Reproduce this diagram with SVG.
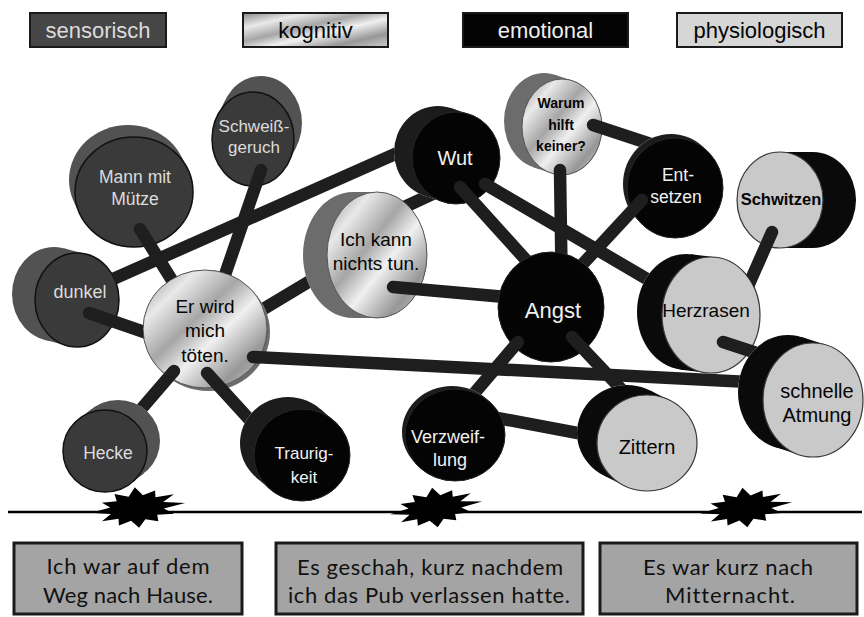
<svg xmlns="http://www.w3.org/2000/svg" xmlns:xlink="http://www.w3.org/1999/xlink" width="864" height="617" viewBox="0 0 864 617">
<style>
.lbl{font-family:"Liberation Sans",Arial,sans-serif;text-anchor:middle}
.sil{fill:currentColor}
.sil path{fill:none;stroke:currentColor;stroke-linecap:butt}
.sens .side{color:#525252}.sens .face{fill:#3a3a3a;stroke:#111;stroke-width:1.5}.sens text{fill:#dcdcdc}
.kog .side{color:#6c6c6c}.kog .face{fill:url(#metal);stroke:#555;stroke-width:1}.kog text{fill:#050505}
.emo .side{color:#1c1c1c}.emo .face{fill:#040404;stroke:#262626;stroke-width:1}.emo text{fill:#f2f2f2}
.phys .side{color:#0a0a0a}.phys .face{fill:#c9c9c9;stroke:#3a3a3a;stroke-width:1.2}.phys text{fill:#050505}
.bar{fill:none;stroke:#1e1e1e;stroke-width:12.5;stroke-linecap:round}
.leg{stroke:#1a1a1a;stroke-width:2}
.legt{font-family:"Liberation Sans",Arial,sans-serif;font-size:22px;text-anchor:middle}
.box{fill:#a4a4a4;stroke:#1a1a1a;stroke-width:3}
.boxt{font-family:Lato,"Open Sans",sans-serif;font-size:22px;fill:#111;text-anchor:middle;font-variant-ligatures:none}
.burst{fill:#000}
</style>
<defs>
<linearGradient id="metal" x1="0" y1="0" x2="1" y2="1">
<stop offset="0" stop-color="#8a8a8a"/>
<stop offset="0.22" stop-color="#e9e9e9"/>
<stop offset="0.42" stop-color="#a6a6a6"/>
<stop offset="0.58" stop-color="#f0f0f0"/>
<stop offset="0.8" stop-color="#979797"/>
<stop offset="1" stop-color="#cdcdcd"/>
</linearGradient>
<polygon id="burst" points="44,0 24.2,2.9 32.9,8.6 17.7,8 18,14 6.5,10.9 0,18 -6.5,10.9 -18,14 -17.7,8 -32.9,8.6 -24.2,2.9 -42,0 -24.2,-2.9 -31.2,-8.1 -17.7,-8 -19,-14.8 -6.5,-10.9 0,-18.9 6.5,-10.9 18,-14 17.7,-8 34.6,-9 24.2,-2.9"/>
<g id="s-Schweiss" class="sil" transform="translate(253 139) scale(1 1.146)"><circle cx="8" cy="-13.96" r="41"/><path d="M8 -13.96L0 0" stroke-width="82"/><circle r="41"/></g>
<g id="s-Mann" class="sil" transform="translate(134 192) scale(1 0.932)"><circle cx="-6" cy="-12.87" r="59"/><path d="M-6 -12.87L0 0" stroke-width="118"/><circle r="59"/></g>
<g id="s-Dunkel" class="sil" transform="translate(77 300) scale(1 1.119)"><circle cx="-23" cy="-5.36" r="42"/><path d="M-23 -5.36L0 0" stroke-width="84"/><circle r="42"/></g>
<g id="s-ErWird" class="sil" transform="translate(205 329) scale(1 0.952)"><circle cx="3" cy="3.15" r="62"/><path d="M3 3.15L0 0" stroke-width="124"/><circle r="62"/></g>
<g id="s-Hecke" class="sil" transform="translate(105 451) scale(1 0.976)"><circle cx="13" cy="-10.25" r="42"/><path d="M13 -10.25L0 0" stroke-width="84"/><circle r="42"/></g>
<g id="s-Traurig" class="sil" transform="translate(302 455) scale(1 0.958)"><circle cx="-14" cy="-12.52" r="48"/><path d="M-14 -12.52L0 0" stroke-width="96"/><circle r="48"/></g>
<g id="s-IchKann" class="sil" transform="translate(377 255) scale(1 1.26)"><circle cx="-24" cy="0" r="50"/><path d="M-24 0L0 0" stroke-width="100"/><circle r="50"/></g>
<g id="s-Wut" class="sil" transform="translate(456 158) scale(1 1.045)"><circle cx="-18" cy="-5.74" r="44"/><path d="M-18 -5.74L0 0" stroke-width="88"/><circle r="44"/></g>
<g id="s-Warum" class="sil" transform="translate(562 127) scale(1 1.2)"><circle cx="-18" cy="-5" r="40"/><path d="M-18 -5L0 0" stroke-width="80"/><circle r="40"/></g>
<g id="s-Ent" class="sil" transform="translate(675 188) scale(1 1.042)"><circle cx="-4" cy="-3.84" r="48"/><path d="M-4 -3.84L0 0" stroke-width="96"/><circle r="48"/></g>
<g id="s-Schwitzen" class="sil" transform="translate(780 200) scale(1 1.116)"><circle cx="33" cy="0" r="43"/><path d="M33 0L0 0" stroke-width="86"/><circle r="43"/></g>
<g id="s-Herz" class="sil" transform="translate(711 315) scale(1 1.184)"><circle cx="-25" cy="-2.53" r="49"/><path d="M-25 -2.53L0 0" stroke-width="98"/><circle r="49"/></g>
<g id="s-Angst" class="sil" transform="translate(551 307) scale(1 1.038)"><circle r="53"/></g>
<g id="s-Schnelle" class="sil" transform="translate(813 400) scale(1 1.14)"><circle cx="-25" cy="-7.02" r="50"/><path d="M-25 -7.02L0 0" stroke-width="100"/><circle r="50"/></g>
<g id="s-Zittern" class="sil" transform="translate(647 443) scale(1 0.96)"><circle cx="-20" cy="-10.42" r="50"/><path d="M-20 -10.42L0 0" stroke-width="100"/><circle r="50"/></g>
<g id="s-Verz" class="sil" transform="translate(455 435) scale(1 0.92)"><circle cx="-3" cy="-3.26" r="50"/><path d="M-3 -3.26L0 0" stroke-width="100"/><circle r="50"/></g>
<mask id="m-ErWird" maskUnits="userSpaceOnUse" x="0" y="0" width="864" height="617"><rect width="864" height="617" fill="#fff"/><use href="#s-ErWird" color="#000"/></mask>
<mask id="m-dW" maskUnits="userSpaceOnUse" x="0" y="0" width="864" height="617"><rect width="864" height="617" fill="#fff"/><use href="#s-Dunkel" color="#000"/><use href="#s-Wut" color="#000"/></mask>
<mask id="m-EI" maskUnits="userSpaceOnUse" x="0" y="0" width="864" height="617"><rect width="864" height="617" fill="#fff"/><use href="#s-ErWird" color="#000"/><use href="#s-IchKann" color="#000"/></mask>
<mask id="m-Sch" maskUnits="userSpaceOnUse" x="0" y="0" width="864" height="617"><rect width="864" height="617" fill="#fff"/><use href="#s-Schnelle" color="#000"/></mask>
<mask id="m-Hecke" maskUnits="userSpaceOnUse" x="0" y="0" width="864" height="617"><rect width="864" height="617" fill="#fff"/><use href="#s-Hecke" color="#000"/></mask>
<mask id="m-Tr" maskUnits="userSpaceOnUse" x="0" y="0" width="864" height="617"><rect width="864" height="617" fill="#fff"/><use href="#s-Traurig" color="#000"/></mask>
<mask id="m-IW" maskUnits="userSpaceOnUse" x="0" y="0" width="864" height="617"><rect width="864" height="617" fill="#fff"/><use href="#s-IchKann" color="#000"/><use href="#s-Wut" color="#000"/></mask>
<mask id="m-Angst" maskUnits="userSpaceOnUse" x="0" y="0" width="864" height="617"><rect width="864" height="617" fill="#fff"/><use href="#s-Angst" color="#000"/></mask>
<mask id="m-Herz" maskUnits="userSpaceOnUse" x="0" y="0" width="864" height="617"><rect width="864" height="617" fill="#fff"/><use href="#s-Herz" color="#000"/></mask>
<mask id="m-Ent" maskUnits="userSpaceOnUse" x="0" y="0" width="864" height="617"><rect width="864" height="617" fill="#fff"/><use href="#s-Ent" color="#000"/></mask>
<mask id="m-Verz" maskUnits="userSpaceOnUse" x="0" y="0" width="864" height="617"><rect width="864" height="617" fill="#fff"/><use href="#s-Verz" color="#000"/></mask>
<mask id="m-Zit" maskUnits="userSpaceOnUse" x="0" y="0" width="864" height="617"><rect width="864" height="617" fill="#fff"/><use href="#s-Zittern" color="#000"/></mask>
<mask id="m-VZ" maskUnits="userSpaceOnUse" x="0" y="0" width="864" height="617"><rect width="864" height="617" fill="#fff"/><use href="#s-Verz" color="#000"/><use href="#s-Zittern" color="#000"/></mask>
</defs>
<rect width="864" height="617" fill="#fff"/>

<g id="legend">
<g id="leg-sensorisch"><rect class="leg" x="30" y="13" width="136" height="34" fill="#464646"/><text class="legt" x="98" y="38" fill="#dcdcdc">sensorisch</text></g>
<g id="leg-kognitiv"><rect class="leg" x="243" y="13" width="145" height="34" fill="url(#metal)"/><text class="legt" x="315.5" y="38" fill="#050505">kognitiv</text></g>
<g id="leg-emotional"><rect class="leg" x="463" y="13" width="165" height="34" fill="#030303"/><text class="legt" x="545.5" y="38" fill="#eeeeee">emotional</text></g>
<g id="leg-physiologisch"><rect class="leg" x="677" y="13" width="165" height="34" fill="#d6d6d6"/><text class="legt" x="759.5" y="38" fill="#050505">physiologisch</text></g>
</g>

<g id="timeline">
<line x1="8" y1="512" x2="862" y2="512" stroke="#000" stroke-width="2.5"/>
<use href="#burst" class="burst" transform="translate(137 508) rotate(-6) scale(1.1)"/>
<use href="#burst" class="burst" transform="translate(435 508) rotate(-8) scale(1.08)"/>
<use href="#burst" class="burst" transform="translate(745 508) rotate(-7) scale(1.08)"/>
</g>

<g id="nodes">
<g id="n-schweissgeruch" class="sens lbl"><use href="#s-Schweiss" class="side"/><ellipse class="face" cx="253" cy="139" rx="41" ry="47"/><text x="254" y="132" font-size="17">Schweiß-</text><text x="254" y="153" font-size="17">geruch</text></g>
<g id="n-mann" class="sens lbl"><use href="#s-Mann" class="side"/><ellipse class="face" cx="134" cy="192" rx="59" ry="55"/><text x="135" y="183" font-size="17.5">Mann mit</text><text x="135" y="205" font-size="17.5">Mütze</text></g>
<g id="n-dunkel" class="sens lbl"><use href="#s-Dunkel" class="side"/><ellipse class="face" cx="77" cy="300" rx="42" ry="47"/><text x="80" y="298" font-size="18">dunkel</text></g>
<g id="n-hecke" class="sens lbl"><use href="#s-Hecke" class="side"/><ellipse class="face" cx="105" cy="451" rx="42" ry="41"/><text x="108" y="459" font-size="17.5">Hecke</text></g>
<g id="n-erwird" class="kog lbl"><use href="#s-ErWird" class="side"/><ellipse class="face" cx="205" cy="329" rx="62" ry="59"/><text x="205" y="313" font-size="19">Er wird</text><text x="205" y="337" font-size="19">mich</text><text x="205" y="362" font-size="19">töten.</text></g>
<g id="n-ichkann" class="kog lbl"><use href="#s-IchKann" class="side"/><ellipse class="face" cx="377" cy="255" rx="50" ry="63"/><text x="376" y="246" font-size="19">Ich kann</text><text x="376" y="270" font-size="19">nichts tun.</text></g>
<g id="n-warum" class="kog lbl"><use href="#s-Warum" class="side"/><ellipse class="face" cx="562" cy="127" rx="40" ry="48"/><text x="561" y="108" font-size="14" font-weight="bold">Warum</text><text x="561" y="130" font-size="14" font-weight="bold">hilft</text><text x="561" y="151" font-size="14" font-weight="bold">keiner?</text></g>
<g id="n-traurigkeit" class="emo lbl"><use href="#s-Traurig" class="side"/><ellipse class="face" cx="302" cy="455" rx="48" ry="46"/><text x="304" y="459" font-size="17">Traurig-</text><text x="304" y="483" font-size="17">keit</text></g>
<g id="n-wut" class="emo lbl"><use href="#s-Wut" class="side"/><ellipse class="face" cx="456" cy="158" rx="44" ry="46"/><text x="455" y="165" font-size="20">Wut</text></g>
<g id="n-entsetzen" class="emo lbl"><use href="#s-Ent" class="side"/><ellipse class="face" cx="675" cy="188" rx="48" ry="50"/><text x="678" y="181" font-size="17.5">Ent-</text><text x="676" y="203" font-size="17.5">setzen</text></g>
<g id="n-angst" class="emo lbl"><use href="#s-Angst" class="side"/><ellipse class="face" cx="551" cy="307" rx="53" ry="55"/><text x="553" y="318" font-size="22">Angst</text></g>
<g id="n-verzweiflung" class="emo lbl"><use href="#s-Verz" class="side"/><ellipse class="face" cx="455" cy="435" rx="50" ry="46"/><text x="448" y="443" font-size="18">Verzweif-</text><text x="450" y="466" font-size="18">lung</text></g>
<g id="n-schwitzen" class="phys lbl"><use href="#s-Schwitzen" class="side"/><ellipse class="face" cx="780" cy="200" rx="43" ry="48"/><text x="781" y="205" font-size="16.5" font-weight="bold">Schwitzen</text></g>
<g id="n-herzrasen" class="phys lbl"><use href="#s-Herz" class="side"/><ellipse class="face" cx="711" cy="315" rx="49" ry="58"/><text x="706" y="317" font-size="19">Herzrasen</text></g>
<g id="n-zittern" class="phys lbl"><use href="#s-Zittern" class="side"/><ellipse class="face" cx="647" cy="443" rx="50" ry="48"/><text x="647" y="454" font-size="20">Zittern</text></g>
<g id="n-schnelle" class="phys lbl"><use href="#s-Schnelle" class="side"/><ellipse class="face" cx="813" cy="400" rx="50" ry="57"/><text x="817" y="398" font-size="20">schnelle</text><text x="817" y="422" font-size="20">Atmung</text></g>
</g>

<g id="connectors">
<path class="bar" mask="url(#m-dW)" d="M77 295L456 127"/>
<path class="bar" mask="url(#m-ErWird)" d="M140 229L203 330"/>
<path class="bar" mask="url(#m-ErWird)" d="M261 170L206 330"/>
<path class="bar" mask="url(#m-ErWird)" d="M89 313L205 353"/>
<path class="bar" mask="url(#m-EI)" d="M240 323L345 260"/>
<path class="bar" mask="url(#m-Hecke)" d="M174 371L118 436"/>
<path class="bar" mask="url(#m-Tr)" d="M207 373L290 464"/>
<path class="bar" mask="url(#m-IW)" d="M398 210L456 183"/>
<path class="bar" mask="url(#m-Angst)" d="M393 287L551 301"/>
<path class="bar" mask="url(#m-Angst)" d="M460 187L545 281"/>
<path class="bar" mask="url(#m-Herz)" d="M485 184L705 313"/>
<path class="bar" mask="url(#m-Angst)" d="M560 170L562 300"/>
<path class="bar" mask="url(#m-Ent)" d="M593 125L675 152"/>
<path class="bar" mask="url(#m-Angst)" d="M642 200L555 294"/>
<path class="bar" mask="url(#m-Herz)" d="M772 232L742 300"/>
<path class="bar" mask="url(#m-Sch)" d="M723 342L800 367"/>
<path class="bar" mask="url(#m-Verz)" d="M518 342L460 410"/>
<path class="bar" mask="url(#m-Zit)" d="M572 337L640 409"/>
<path class="bar" mask="url(#m-VZ)" d="M455 410L620 441"/>
<path class="bar" mask="url(#m-Sch)" d="M253 357L810 385"/>
</g>

<g id="boxes">
<g id="box-weg"><rect class="box" x="14" y="543" width="228" height="71"/><text class="boxt" x="128" y="574" textLength="163" lengthAdjust="spacing">Ich war auf dem</text><text class="boxt" x="128" y="603" textLength="170" lengthAdjust="spacing">Weg nach Hause.</text></g>
<g id="box-pub"><rect class="box" x="276" y="543" width="307" height="71"/><text class="boxt" x="430" y="575" textLength="266" lengthAdjust="spacing">Es geschah, kurz nachdem</text><text class="boxt" x="429" y="603" textLength="282" lengthAdjust="spacing">ich das Pub verlassen hatte.</text></g>
<g id="box-nacht"><rect class="box" x="600" y="543" width="257" height="71"/><text class="boxt" x="728" y="575" textLength="170" lengthAdjust="spacing">Es war kurz nach</text><text class="boxt" x="730" y="603" textLength="130" lengthAdjust="spacing">Mitternacht.</text></g>
</g>
</svg>
